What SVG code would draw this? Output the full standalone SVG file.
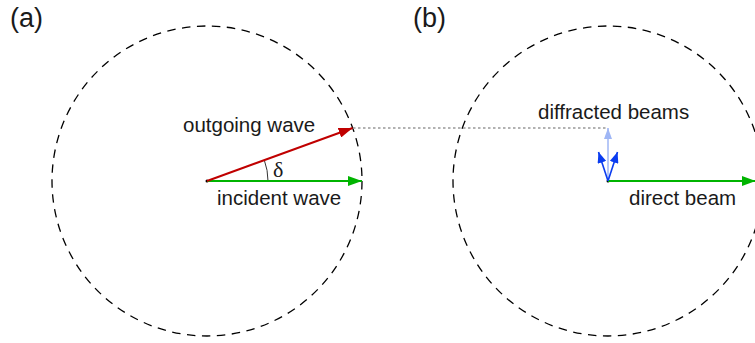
<svg xmlns="http://www.w3.org/2000/svg" width="755" height="343" viewBox="0 0 755 343">
<style>
text{font-family:"Liberation Sans",Arial,sans-serif;fill:#1a1a1a}
.lbl{font-size:20.5px}
.pan{font-size:27px}
.circ{fill:none;stroke:#000;stroke-width:1.3;stroke-dasharray:8.5 6.5}
.dot{fill:#000}
</style>
<defs>
<marker id="hr" markerUnits="userSpaceOnUse" markerWidth="14" markerHeight="10" refX="14" refY="5" orient="auto"><path d="M0,0 L14,5 L0,10 z" fill="#c00000"/></marker>
<marker id="hg" markerUnits="userSpaceOnUse" markerWidth="14" markerHeight="10" refX="14" refY="5" orient="auto"><path d="M0,0 L14,5 L0,10 z" fill="#00b400"/></marker>
<marker id="hb" markerUnits="userSpaceOnUse" markerWidth="11" markerHeight="9" refX="11" refY="4.5" orient="auto"><path d="M0,0 L11,4.5 L0,9 z" fill="#0a3cf0"/></marker>
<marker id="hl" markerUnits="userSpaceOnUse" markerWidth="11" markerHeight="8" refX="11" refY="4" orient="auto"><path d="M0,0 L11,4 L0,8 z" fill="#9fb6f5"/></marker>
</defs>
<g id="panel-a">
<text class="pan" x="10" y="27">(a)</text>
<circle class="circ" cx="207" cy="181" r="155"/>
<circle class="dot" cx="207" cy="181" r="1.5"/>
</g>
<g id="panel-b">
<text class="pan" x="413" y="27">(b)</text>
<circle class="circ" cx="608" cy="181" r="155"/>
<circle class="dot" cx="608" cy="181" r="1.5"/>
</g>
<g id="connectors">
<line x1="353" y1="128" x2="608" y2="128" stroke="#999" stroke-width="1.5" stroke-dasharray="2.5 2.5"/>
<path d="M268,181 A61,61 0 0 0 264.3,160.1" fill="none" stroke="#333" stroke-width="1"/>
<line x1="207" y1="181" x2="362" y2="181" stroke="#00b400" stroke-width="2" marker-end="url(#hg)"/>
<line x1="207" y1="181" x2="352.6" y2="128" stroke="#c00000" stroke-width="2" marker-end="url(#hr)"/>
<line x1="608" y1="181" x2="756" y2="181" stroke="#00b400" stroke-width="2" marker-end="url(#hg)"/>
<line x1="608" y1="181" x2="608" y2="128" stroke="#9fb6f5" stroke-width="1.5" marker-end="url(#hl)"/>
<line x1="608" y1="181" x2="598.5" y2="152" stroke="#0a3cf0" stroke-width="1.6" marker-end="url(#hb)"/>
<line x1="608" y1="181" x2="617.5" y2="152" stroke="#0a3cf0" stroke-width="1.6" marker-end="url(#hb)"/>
</g>
<g id="labels">
<text class="lbl" x="183" y="132">outgoing wave</text>
<text x="273" y="176.5" style="font-family:'Liberation Serif','Times New Roman',serif;font-size:22px">δ</text>
<text class="lbl" x="217" y="205">incident wave</text>
<text class="lbl" x="538" y="119">diffracted beams</text>
<text class="lbl" x="629" y="205">direct beam</text>
</g>
</svg>
